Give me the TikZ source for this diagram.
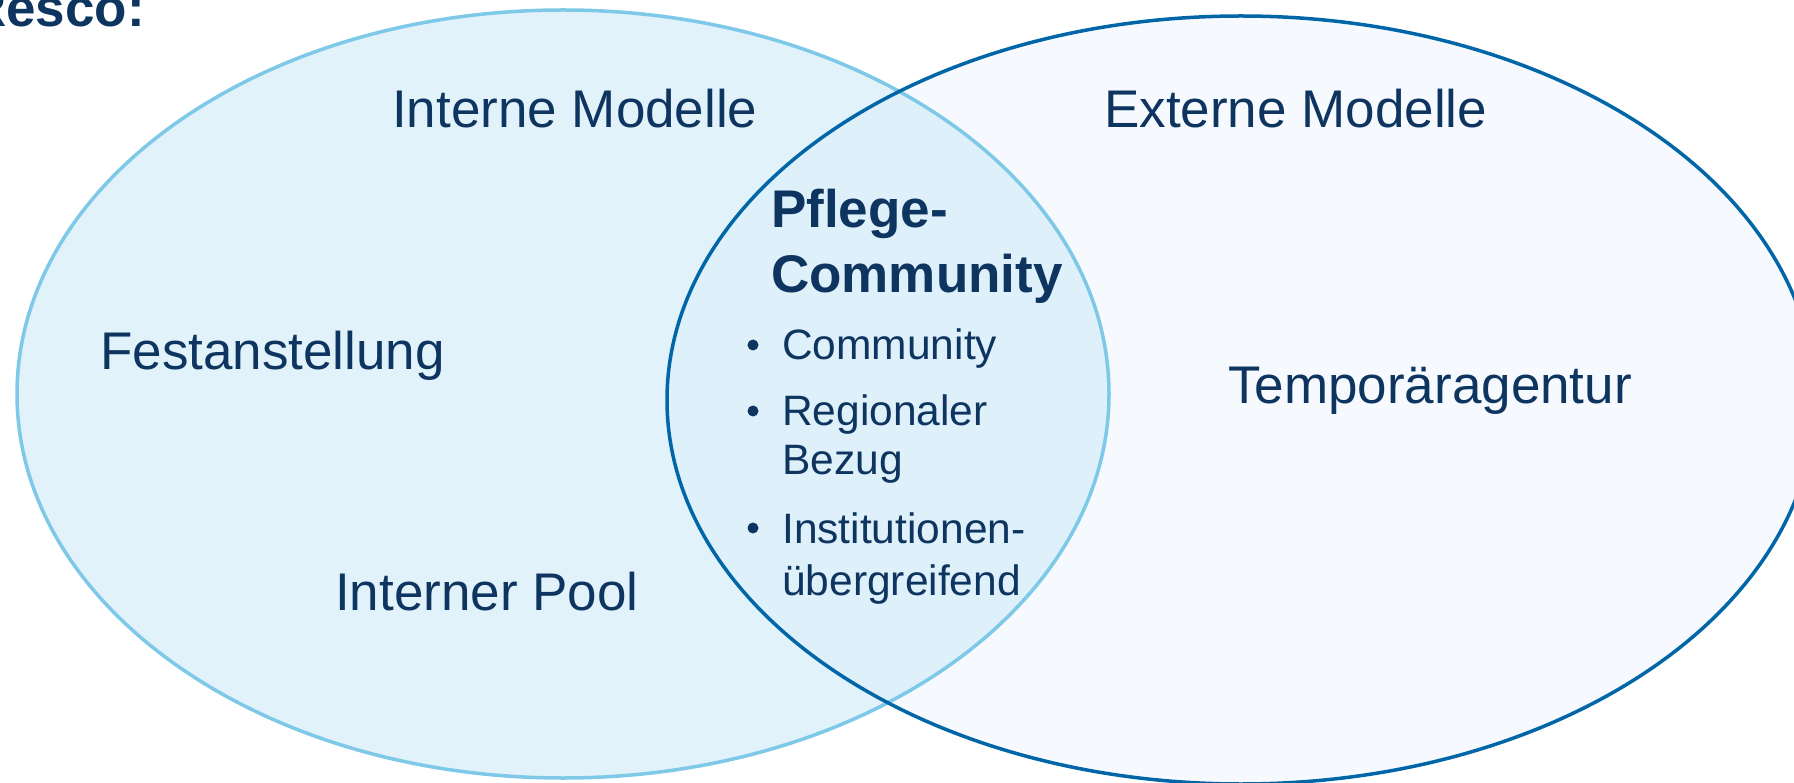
\documentclass[tikz,border=0pt]{standalone}
\usepackage{fontspec}
\setmainfont{Liberation Sans}
\definecolor{navy}{RGB}{14,52,96}
\definecolor{leftfill}{RGB}{225,242,250}
\definecolor{overlapfill}{RGB}{222,240,249}
\definecolor{leftline}{RGB}{126,200,232}
\definecolor{rightfill}{RGB}{246,250,254}
\definecolor{rightline}{RGB}{0,102,168}
\begin{document}
\begin{tikzpicture}[x=1pt,y=-1pt,
  lbl/.style={anchor=base west, inner sep=0pt, text=navy, font=\fontsize{53}{62}\selectfont},
  head/.style={anchor=base west, inner sep=0pt, text=navy, font=\fontsize{53}{62}\selectfont\bfseries},
  item/.style={anchor=base west, inner sep=0pt, text=navy, font=\fontsize{42.5}{50}\selectfont},
  bul/.style={fill=navy, draw=none}]
\useasboundingbox (0,0) rectangle (1794,783);
\clip (0,0) rectangle (1794,783);
\fill[white] (0,0) rectangle (1794,783);
% ellipses
\fill[rightfill] (1241,400) ellipse [x radius=574, y radius=384];
\fill[leftfill] (563,394) ellipse [x radius=546, y radius=384];
\begin{scope}
  \clip (1241,400) ellipse [x radius=574, y radius=384];
  \fill[overlapfill] (563,394) ellipse [x radius=546, y radius=384];
\end{scope}
\draw[leftline, line width=3.5pt] (563,394) ellipse [x radius=546, y radius=384];
\draw[rightline, line width=3.5pt] (1241,400) ellipse [x radius=574, y radius=384];
% title fragment
\node[anchor=base east, inner sep=0pt, text=navy, font=\fontsize{53}{62}\selectfont\bfseries] (title) at (145,27) {Resco:};
% labels
\node[lbl] (intern) at (392,128) {Interne Modelle};
\node[lbl] (extern) at (1104,128) {Externe Modelle};
\node[lbl] (fest) at (100,370) {Festanstellung};
\node[lbl] (pool) at (335,610) {Interner Pool};
\node[lbl] (temp) at (1228,403) {Temporäragentur};
% community
\node[head] (pf1) at (771,228) {Pflege-};
\node[head] (pf2) at (771,293) {Community};
\node[item] (i1) at (782,360) {Community};
\node[item] (i2a) at (782,426) {Regionaler};
\node[item] (i2b) at (782,475) {Bezug};
\node[item] (i3a) at (782,543) {Institutionen-};
\node[item] (i3b) at (782,595) {übergreifend};
\fill[bul] (753,345) circle (5.5);
\fill[bul] (753,411) circle (5.5);
\fill[bul] (753,528) circle (5.5);
\end{tikzpicture}
\end{document}
